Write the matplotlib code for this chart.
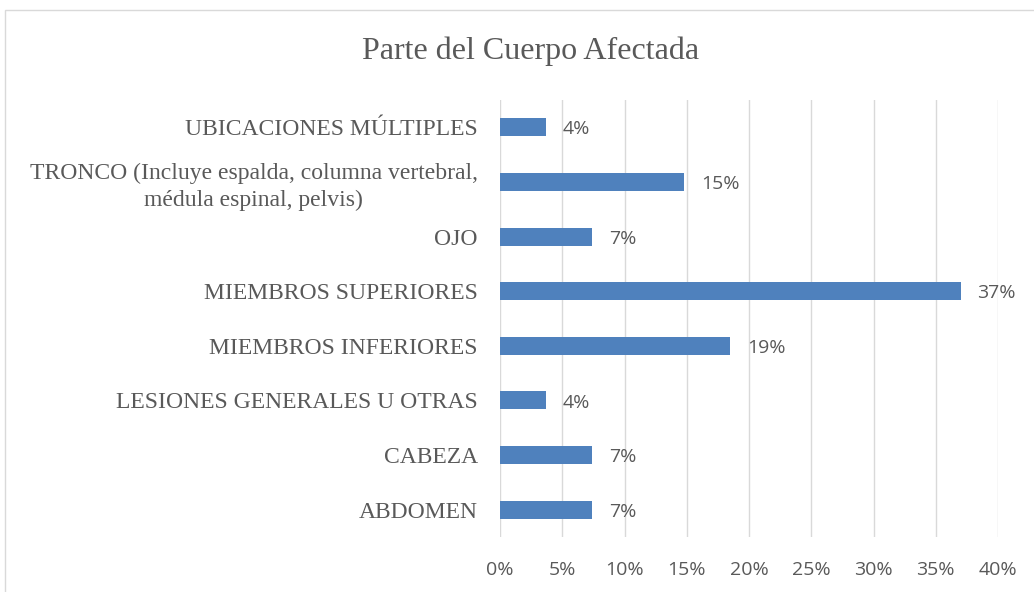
import matplotlib
matplotlib.use("Agg")
import matplotlib.pyplot as plt
from matplotlib.patches import Rectangle
from matplotlib.ticker import PercentFormatter

categories = [
    "ABDOMEN",
    "CABEZA",
    "LESIONES GENERALES U OTRAS",
    "MIEMBROS INFERIORES",
    "MIEMBROS SUPERIORES",
    "OJO",
    "TRONCO (Incluye espalda, columna vertebral,\nmédula espinal, pelvis)",
    "UBICACIONES MÚLTIPLES",
]
values = [7.4, 7.4, 3.7, 18.5, 37.0, 7.4, 14.8, 3.7]
value_labels = ["7%", "7%", "4%", "19%", "37%", "7%", "15%", "4%"]
x_ticks = [0, 5, 10, 15, 20, 25, 30, 35, 40]

text_color = "#595959"
serif = ["Liberation Serif", "DejaVu Serif"]
sans = ["Open Sans", "DejaVu Sans"]

fig = plt.figure(figsize=(10.34, 5.92), dpi=100)
ax = fig.add_axes([0.4836, 0.0929, 0.4816, 0.7381])

ypos = range(len(categories))
ax.barh(ypos, values, height=0.33, color="#4F81BD", zorder=3)
for y, v, lab in zip(ypos, values, value_labels):
    ax.annotate(lab, (v, y), xytext=(12, -1.5), textcoords="offset points",
                va="center", ha="left", fontsize=14, color=text_color,
                family=sans)

ax.set_xlim(0, 40)
ax.set_ylim(-0.5, len(categories) - 0.5)
ax.set_xticks(x_ticks)
ax.xaxis.set_major_formatter(PercentFormatter(decimals=0))
ax.set_yticks(list(ypos))
ax.set_yticklabels(categories, family=serif, fontsize=17, color=text_color,
                   ha="right", multialignment="center", linespacing=1.35)
ax.tick_params(axis="y", length=0, pad=16)
ax.tick_params(axis="x", length=0, pad=17, labelsize=14, labelcolor=text_color)
for lab in ax.get_xticklabels():
    lab.set_family(sans)
ax.grid(axis="x", color="#D9D9D9", linewidth=1, zorder=0)
for s in ax.spines.values():
    s.set_visible(False)

fig.text(0.513, 0.913, "Parte del Cuerpo Afectada", ha="center", va="center",
         family=serif, fontsize=23, color=text_color)

fig.patches.append(Rectangle((5 / 1034, -0.1), 1.2, (592 - 10) / 592 + 0.1,
                             transform=fig.transFigure, fill=False,
                             edgecolor="#D9D9D9", linewidth=1))

fig.savefig("out.png", dpi=100)
